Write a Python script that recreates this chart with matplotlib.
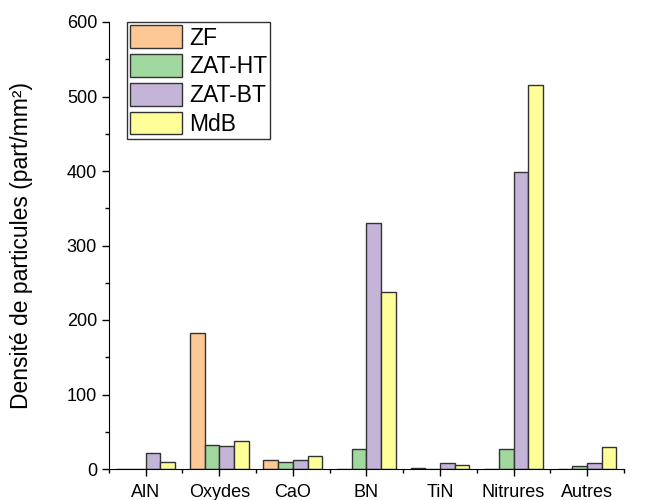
import matplotlib.pyplot as plt
import numpy as np

plt.rcParams['font.family'] = ['Liberation Sans', 'DejaVu Sans']

categories = ["AlN", "Oxydes", "CaO", "BN", "TiN", "Nitrures", "Autres"]
series_names = ["ZF", "ZAT-HT", "ZAT-BT", "MdB"]
zf = [0, 183, 11.5, 0, 1, 0, 0]
zat_ht = [0, 32, 9, 27, 0, 27, 4]
zat_bt = [22, 31, 12, 330, 8, 398, 8.5]
mdb = [9, 37, 17.5, 238, 6, 516, 29]
colors = ["#FDC896", "#A0D8A0", "#C3B4D8", "#FFFF99"]

fig = plt.figure(figsize=(6.56, 5), dpi=100)
ax = fig.add_axes([0.166, 0.062, 0.785, 0.894])

x = np.arange(len(categories))
w = 0.2
for i, (vals, name) in enumerate(zip([zf, zat_ht, zat_bt, mdb], series_names)):
    ax.bar(x + (i - 1.5) * w, vals, w, color=colors[i], edgecolor="#333333",
           linewidth=1.0, label=name, zorder=2)

ax.set_xlim(-0.5, len(categories) - 0.5)
ax.set_ylim(0, 600)
ax.set_xticks(x)
ax.set_xticklabels(categories, fontsize=13)
ax.set_xticks(np.arange(-0.5, len(categories)), minor=True)
ax.set_yticks(np.arange(0, 601, 100))
ax.set_yticks(np.arange(50, 600, 100), minor=True)
ax.tick_params(axis="y", labelsize=13, length=5, width=1)
ax.tick_params(axis="y", which="minor", length=3, width=1)
ax.tick_params(axis="x", length=5, width=1, pad=6)
ax.tick_params(axis="x", which="minor", length=3, width=1)
ax.spines["top"].set_visible(False)
ax.spines["right"].set_visible(False)
ax.set_ylabel("Densité de particules (part/mm²)", fontsize=16.5)
ax.yaxis.set_label_coords(-0.148, 0.5)

leg = ax.legend(loc="upper left", bbox_to_anchor=(0.035, 1.0), fontsize=16.5,
                frameon=True, fancybox=False, edgecolor="black",
                handlelength=2.25, handleheight=1.15, handletextpad=0.3,
                labelspacing=0.2, borderpad=0.15, borderaxespad=0)
leg.get_frame().set_linewidth(1.0)

fig.savefig("out.png", dpi=100)
